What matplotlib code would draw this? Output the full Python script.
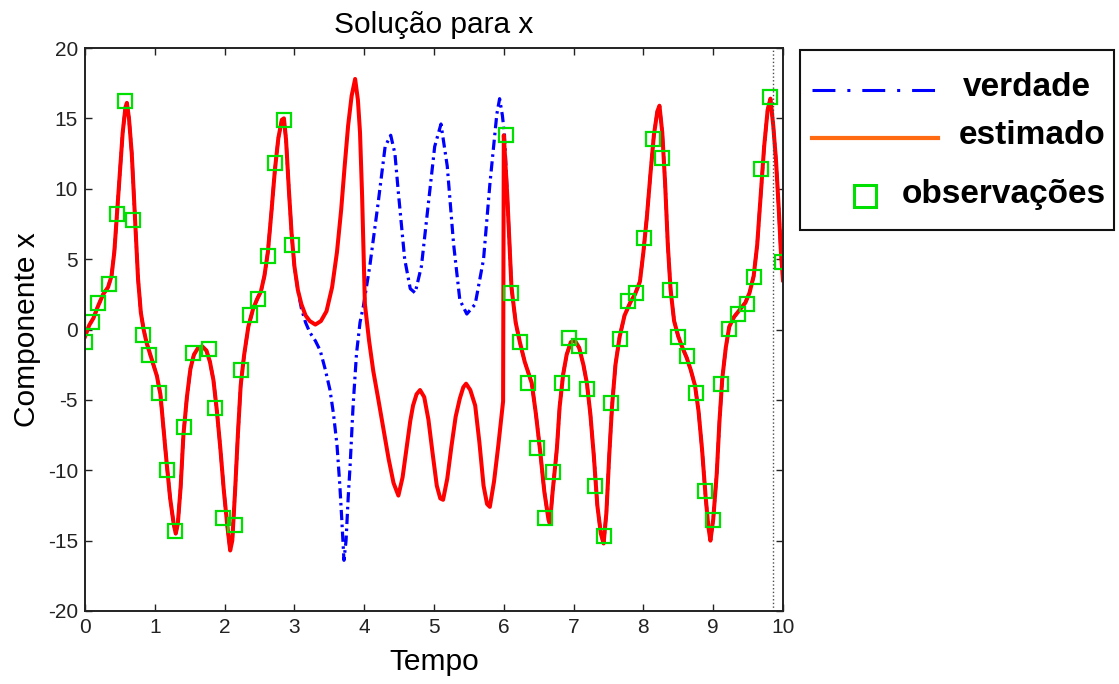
import matplotlib
matplotlib.use("Agg")
import matplotlib.pyplot as plt
import numpy as np
from matplotlib.lines import Line2D
from matplotlib.patches import Rectangle

plt.rcParams["font.family"] = ["Liberation Sans", "DejaVu Sans"]
plt.rcParams["axes.unicode_minus"] = False

# shared part of truth and estimate (0 - 3.05)
t_common1 = [0.00, 0.06, 0.12, 0.19, 0.26, 0.33, 0.38, 0.42, 0.46, 0.50,
             0.54, 0.58, 0.60, 0.63, 0.67, 0.70, 0.73, 0.76, 0.80, 0.84,
             0.88, 0.93, 0.98, 1.03, 1.08, 1.12, 1.17, 1.22, 1.27, 1.30,
             1.33, 1.37, 1.41, 1.46, 1.51, 1.56, 1.62, 1.68, 1.74, 1.79,
             1.84, 1.89, 1.94, 1.99, 2.04, 2.08, 2.11, 2.15, 2.19, 2.23,
             2.28, 2.34, 2.41, 2.47, 2.52, 2.57, 2.62, 2.67, 2.72, 2.77,
             2.82, 2.85, 2.88, 2.92, 2.96, 3.00, 3.05]
x_common1 = [-0.5, 0.3, 0.8, 1.7, 2.5, 3.0, 3.8, 5.5, 8.3, 11.0,
             14.0, 15.8, 16.1, 15.0, 12.5, 9.5, 6.5, 3.6, 1.2, 0.0,
             -0.9, -1.7, -2.5, -3.3, -4.6, -6.8, -9.5, -12.0, -13.8, -14.5,
             -13.8, -11.2, -7.5, -4.8, -2.8, -1.8, -1.3, -1.2, -1.5, -2.3,
             -3.6, -5.8, -8.5, -11.5, -14.0, -15.7, -15.0, -11.5, -7.5, -4.0,
             -1.8, 0.2, 1.5, 2.2, 2.7, 3.8, 5.5, 8.3, 11.3, 13.6,
             14.9, 15.0, 13.5, 10.0, 6.8, 4.5, 2.8]

# truth where it departs from the estimate
t_true_mid = [3.10, 3.16, 3.22, 3.30, 3.37, 3.44, 3.51, 3.56, 3.61, 3.65,
              3.68, 3.71, 3.74, 3.77, 3.80, 3.84, 3.89, 3.94, 3.99, 4.08,
              4.20, 4.30, 4.38, 4.44, 4.49, 4.58, 4.66, 4.73, 4.82, 4.92,
              5.01, 5.10, 5.19, 5.28, 5.37, 5.47, 5.59, 5.71, 5.80, 5.90,
              5.94, 5.98, 6.01]
x_true_mid = [1.5, 0.5, -0.2, -0.8, -1.5, -2.8, -4.3, -6.0, -8.2, -11.0,
              -13.6, -16.4, -15.0, -12.0, -9.5, -5.5, -1.7, 0.5, 1.7, 4.5,
              9.0, 13.0, 13.8, 12.5, 9.7, 5.0, 2.9, 2.6, 4.5, 9.0,
              13.0, 14.6, 11.6, 6.1, 2.1, 1.1, 1.8, 5.0, 10.3, 15.3,
              16.4, 15.2, 13.8]

# estimate where it departs from the truth
t_est_mid = [3.10, 3.16, 3.22, 3.30, 3.38, 3.46, 3.54, 3.61, 3.67, 3.72,
             3.77, 3.82, 3.87, 3.91, 3.94, 3.97, 4.01, 4.07, 4.13, 4.20,
             4.27, 4.35, 4.42, 4.49, 4.55, 4.61, 4.66, 4.70, 4.75, 4.80,
             4.86, 4.92, 4.98, 5.04, 5.09, 5.13, 5.19, 5.25, 5.31, 5.37,
             5.42, 5.46, 5.52, 5.59, 5.65, 5.71, 5.76, 5.80, 5.86, 5.92,
             5.96, 5.99, 6.00]
x_est_mid = [1.8, 1.0, 0.6, 0.35, 0.6, 1.3, 3.0, 5.5, 8.5, 11.6,
             14.5, 16.6, 17.8, 16.3, 14.0, 9.5, 1.8, -0.8, -2.95, -4.9,
             -6.9, -9.2, -10.9, -11.8, -10.5, -8.3, -6.5, -5.4, -4.6, -4.3,
             -4.8, -6.4, -8.8, -11.1, -12.0, -12.1, -10.6, -8.3, -6.2, -4.9,
             -4.1, -3.85, -4.3, -5.4, -8.0, -11.1, -12.4, -12.6, -10.8, -8.3,
             -6.5, -5.1, 13.8]

# shared part again (6.05 - 10)
t_common2 = [6.05, 6.11, 6.17, 6.23, 6.30, 6.40, 6.46, 6.52, 6.58, 6.64,
             6.66, 6.70, 6.76, 6.80, 6.85, 6.90, 6.96, 7.02, 7.08, 7.14,
             7.19, 7.24, 7.29, 7.34, 7.39, 7.43, 7.47, 7.51, 7.55, 7.60,
             7.66, 7.73, 7.81, 7.88, 7.95, 8.00, 8.05, 8.10, 8.15, 8.20,
             8.23, 8.27, 8.31, 8.35, 8.39, 8.44, 8.50, 8.56, 8.62, 8.68,
             8.74, 8.79, 8.84, 8.89, 8.93, 8.96, 9.00, 9.05, 9.09, 9.13,
             9.18, 9.23, 9.30, 9.38, 9.46, 9.52, 9.58, 9.63, 9.68, 9.73,
             9.78, 9.82, 9.86, 9.90, 9.94, 9.97, 10.00]
x_common2 = [9.5, 3.0, 0.5, -0.9, -2.3, -3.8, -6.0, -8.6, -11.5, -13.5,
             -13.8, -11.5, -8.5, -5.5, -3.2, -1.8, -0.9, -0.8, -1.3, -2.5,
             -3.8, -6.0, -9.0, -12.5, -14.5, -15.2, -13.0, -9.0, -5.5, -2.5,
             -0.5, 1.0, 1.9, 2.5, 3.4, 5.5, 8.0, 11.0, 13.8, 15.5,
             15.9, 14.0, 10.5, 6.0, 2.8, 0.6, -0.5, -1.3, -2.0, -2.9,
             -4.0, -5.8, -8.5, -11.8, -14.0, -15.0, -13.5, -10.3, -6.5, -3.5,
             -1.3, 0.2, 0.9, 1.4, 1.9, 2.6, 3.8, 6.0, 9.5, 13.0,
             15.6, 16.4, 14.5, 12.0, 8.5, 5.5, 3.5]

t_obs = [0.00, 0.10, 0.19, 0.35, 0.46, 0.57, 0.69, 0.83, 0.92, 1.06,
         1.17, 1.29, 1.42, 1.55, 1.77, 1.86, 1.98, 2.15, 2.24, 2.36,
         2.48, 2.62, 2.72, 2.85, 2.96, 6.03, 6.11, 6.23, 6.35, 6.48,
         6.59, 6.71, 6.83, 6.94, 7.08, 7.19, 7.31, 7.43, 7.53, 7.67,
         7.78, 7.90, 8.01, 8.14, 8.26, 8.38, 8.50, 8.62, 8.76, 8.88,
         9.00, 9.11, 9.22, 9.36, 9.48, 9.59, 9.69, 9.81, 9.98]
x_obs = [-0.9, 0.5, 1.9, 3.2, 8.2, 16.2, 7.8, -0.4, -1.8, -4.5,
         -10.0, -14.3, -6.9, -1.7, -1.35, -5.6, -13.4, -13.9, -2.9, 1.0,
         2.2, 5.2, 11.8, 14.9, 6.0, 13.8, 2.6, -0.9, -3.8, -8.4,
         -13.4, -10.1, -3.8, -0.6, -1.2, -4.2, -11.1, -14.7, -5.2, -0.7,
         2.0, 2.6, 6.5, 13.5, 12.2, 2.8, -0.5, -1.9, -4.5, -11.5,
         -13.5, -3.9, 0.07, 1.1, 1.8, 3.75, 11.4, 16.5, 4.8]

t_final = 9.86
x_ticks = list(range(0, 11))
y_ticks = list(range(-20, 21, 5))

t_true = np.array(t_common1 + t_true_mid + t_common2)
x_true = np.array(x_common1 + x_true_mid + x_common2)
t_est = np.array(t_common1 + t_est_mid + t_common2)
x_est = np.array(x_common1 + x_est_mid + x_common2)

W, H = 1119, 684
fig = plt.figure(figsize=(W / 100, H / 100), dpi=100)
ax = fig.add_axes([85 / W, 1 - 611 / H, 698 / W, 563 / H])

ax.plot(t_true, x_true, color="#0000ff", lw=2.3, dashes=(3.2, 1.4, 0.8, 1.4))
ax.plot(t_est, x_est, color="#ff0000", lw=2.9, solid_joinstyle="round")
ax.plot(t_obs, x_obs, ls="none", marker="s", ms=9.5, mfc="none",
        mec="#00e000", mew=1.6)
ax.axvline(t_final, color="0.3", ls=":", lw=1.0)

ax.set_xlim(0, 10)
ax.set_ylim(-20, 20)
ax.set_xticks(x_ticks)
ax.set_yticks(y_ticks)
ax.tick_params(direction="in", length=5, width=1, top=True, right=True,
               labelsize=15, pad=5, colors="#222222")
for s in ax.spines.values():
    s.set_linewidth(1.4)
    s.set_color("#222222")

ax.set_title("Solução para x", fontsize=21.5, pad=11)
ax.set_xlabel("Tempo", fontsize=21.5)
ax.set_ylabel("Componente x", fontsize=21.5)
ax.xaxis.set_label_coords(0.5, -0.066)
ax.yaxis.set_label_coords(-0.063, 0.5)

# legend box drawn by hand, outside the axes
def fx(px):
    return px / W


def fy(py):
    return 1 - py / H


fig.add_artist(Rectangle((fx(800), fy(230)), fx(1114) - fx(800), fy(50) - fy(230),
                         transform=fig.transFigure, fill=False, ec="#111111", lw=1.5))
fig.add_artist(Line2D([fx(812), fx(938)], [fy(90), fy(90)], transform=fig.transFigure,
                      color="#0000ff", lw=2.2, dashes=(7.5, 3.9, 1.0, 3.9)))
fig.add_artist(Line2D([fx(812), fx(938)], [fy(138), fy(138)], transform=fig.transFigure,
                      color="#ff6a13", lw=3.0))
fig.add_artist(Line2D([fx(865)], [fy(196)], transform=fig.transFigure, ls="none",
                      marker="s", ms=16, mfc="none", mec="#00e000", mew=2.2))
fig.text(fx(963), fy(88), "verdade", fontsize=24, fontweight="bold", va="center")
fig.text(fx(959), fy(136), "estimado", fontsize=24, fontweight="bold", va="center")
fig.text(fx(902), fy(194), "observações", fontsize=24, fontweight="bold", va="center")

fig.savefig("out.png", dpi=100)
